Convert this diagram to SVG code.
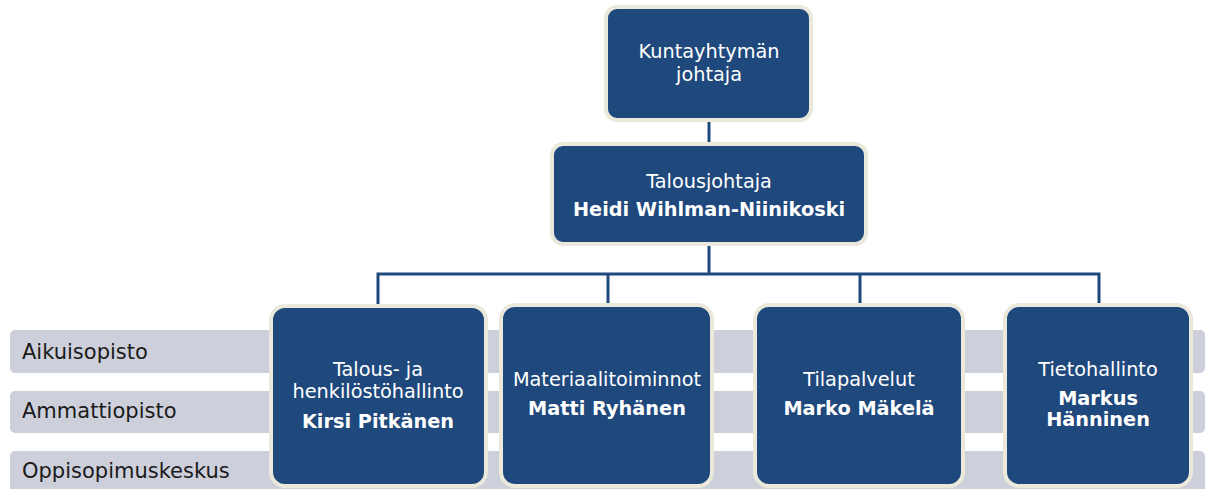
<svg xmlns="http://www.w3.org/2000/svg" width="1205" height="489" viewBox="0 0 1205 489">
<style>
.band{fill:#cdd0da}
.bl{font-family:"DejaVu Sans",Verdana,sans-serif;font-size:21px;fill:#1a1a1a}
.box{fill:#1f497d;stroke:#ebe8dc;stroke-width:4}
.t{font-family:"DejaVu Sans",Verdana,sans-serif;font-size:19.3px;fill:#ffffff;text-anchor:middle}
.b{font-weight:bold}
.c{fill:none;stroke:#1f497d;stroke-width:3}
</style>
<rect width="1205" height="489" fill="#ffffff"/>
<g id="bands">
<rect class="band" x="10" y="330" width="1195" height="43" rx="5"/>
<rect class="band" x="10" y="391" width="1195" height="42" rx="5"/>
<rect class="band" x="10" y="451" width="1195" height="45" rx="5"/>
<text class="bl" x="22" y="359">Aikuisopisto</text>
<text class="bl" x="22" y="418">Ammattiopisto</text>
<text class="bl" x="22" y="478">Oppisopimuskeskus</text>
</g>
<g id="connectors">
<path class="c" d="M709 120V145"/>
<path class="c" d="M709 244V274"/>
<path class="c" d="M378 305V274H1099V305"/>
<path class="c" d="M608 274V305"/>
<path class="c" d="M860 274V305"/>
</g>
<g id="n-johtaja">
<rect class="box" x="606" y="7" width="205" height="113" rx="11"/>
<text class="t" x="709" y="58">Kuntayhtymän</text>
<text class="t" x="709" y="81">johtaja</text>
</g>
<g id="n-talousjohtaja">
<rect class="box" x="552" y="144" width="314" height="100" rx="11"/>
<text class="t" x="709" y="188">Talousjohtaja</text>
<text class="t b" x="709" y="216">Heidi Wihlman-Niinikoski</text>
</g>
<g id="n-talous">
<rect class="box" x="271" y="306" width="215" height="180" rx="14"/>
<text class="t" x="378" y="376">Talous- ja</text>
<text class="t" x="378" y="398">henkilöstöhallinto</text>
<text class="t b" x="378" y="428">Kirsi Pitkänen</text>
</g>
<g id="n-materiaali">
<rect class="box" x="501" y="305" width="211" height="181" rx="14"/>
<text class="t" x="607" y="386">Materiaalitoiminnot</text>
<text class="t b" x="607" y="415">Matti Ryhänen</text>
</g>
<g id="n-tila">
<rect class="box" x="755" y="305" width="208" height="181" rx="14"/>
<text class="t" x="859" y="386">Tilapalvelut</text>
<text class="t b" x="859" y="415">Marko Mäkelä</text>
</g>
<g id="n-tieto">
<rect class="box" x="1005" y="305" width="186" height="181" rx="14"/>
<text class="t" x="1098" y="376">Tietohallinto</text>
<text class="t b" x="1098" y="405">Markus</text>
<text class="t b" x="1098" y="426">Hänninen</text>
</g>
</svg>
